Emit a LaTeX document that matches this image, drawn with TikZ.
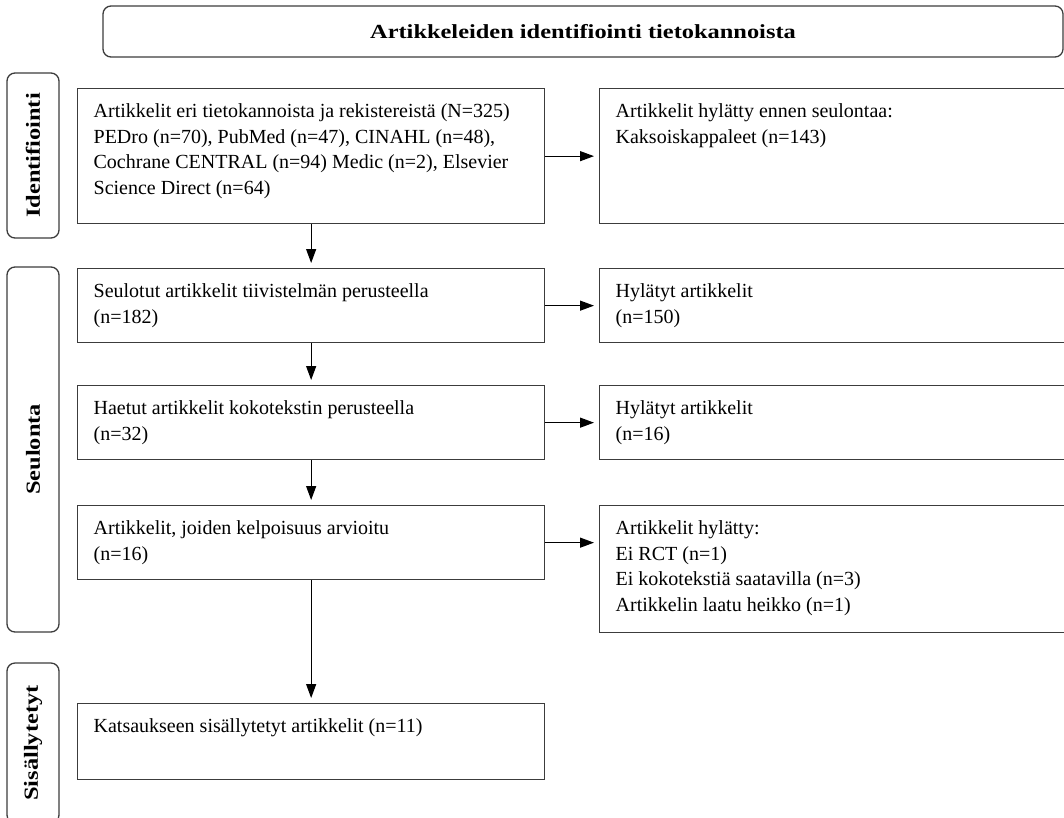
\documentclass[tikz,border=0pt]{standalone}
\usepackage{fontspec}
\setmainfont{Liberation Serif}
\newfontfamily\headfont[FakeStretch=1.22]{Liberation Serif}
\usetikzlibrary{arrows.meta}

% text block at the top of a box: height, width, lines
\newcommand{\boxtxt}[3]{\parbox[c][#1][t]{#2}{\raggedright\rule{0pt}{29pt}#3}}

\begin{document}
\begin{tikzpicture}[x=1pt,y=-1pt,
  flowbox/.style={draw=custcol_3c_3c_3c, line width=1.3pt, anchor=north west,
    inner xsep=16pt, inner ysep=0pt, font=\fontsize{20pt}{25.5pt}\selectfont},
  sidebox/.style={draw=custcol_3c_3c_3c, line width=1.3pt, rounded corners=8pt,
    minimum width=52pt, inner sep=0pt, font=\headfont\bfseries\fontsize{20pt}{24pt}\selectfont},
  flowarrow/.style={-{Triangle[length=14pt,width=10pt]}, line width=1.2pt,
    custcol_0_0_0, shorten >=5pt}]
\useasboundingbox (0,0) rectangle (1064,817);
\definecolor{custcol_0_0_0}{RGB}{0, 0, 0}
\definecolor{custcol_3c_3c_3c}{RGB}{60, 60, 60}
% title and phase labels
\node[sidebox, minimum width=960pt, minimum height=51pt] (title) at (583,31.5) {Artikkeleiden identifiointi tietokannoista};
\node[sidebox, minimum height=165pt] (ident) at (33,155.5) {\rotatebox{90}{Identifiointi}};
\node[sidebox, minimum height=365pt] (seul) at (33,449.5) {\rotatebox{90}{Seulonta}};
\node[sidebox, minimum height=160pt] (sis) at (33,743) {\rotatebox{90}{Sisällytetyt}};
% main column
\node[flowbox] (haku) at (77,88) {\boxtxt{135pt}{435pt}{Artikkelit eri tietokannoista ja rekistereistä (N=325)\\PEDro (n=70), PubMed (n=47), CINAHL (n=48),\\Cochrane CENTRAL (n=94) Medic (n=2), Elsevier\\Science Direct (n=64)}};
\node[flowbox] (seulotut) at (77,268) {\boxtxt{74pt}{435pt}{Seulotut artikkelit tiivistelmän perusteella\\(n=182)}};
\node[flowbox] (haetut) at (77,385) {\boxtxt{74pt}{435pt}{Haetut artikkelit kokotekstin perusteella\\(n=32)}};
\node[flowbox] (kelpo) at (77,505) {\boxtxt{74pt}{435pt}{Artikkelit, joiden kelpoisuus arvioitu\\(n=16)}};
\node[flowbox] (mukaan) at (77,703) {\boxtxt{76pt}{435pt}{Katsaukseen sisällytetyt artikkelit (n=11)}};
% excluded column
\node[flowbox] (hyl0) at (599,88) {\boxtxt{135pt}{434pt}{Artikkelit hylätty ennen seulontaa:\\Kaksoiskappaleet (n=143)}};
\node[flowbox] (hyl1) at (599,268) {\boxtxt{74pt}{434pt}{Hylätyt artikkelit\\(n=150)}};
\node[flowbox] (hyl2) at (599,385) {\boxtxt{74pt}{434pt}{Hylätyt artikkelit\\(n=16)}};
\node[flowbox] (hyl3) at (599,505) {\boxtxt{127pt}{434pt}{Artikkelit hylätty:\\Ei RCT (n=1)\\Ei kokotekstiä saatavilla (n=3)\\Artikkelin laatu heikko (n=1)}};
% arrows
\draw[flowarrow] (haku.south) -- (seulotut.north);
\draw[flowarrow] (seulotut.south) -- (haetut.north);
\draw[flowarrow] (haetut.south) -- (kelpo.north);
\draw[flowarrow] (kelpo.south) -- (mukaan.north);
\draw[flowarrow] (haku.east) -- (haku.east -| hyl0.west);
\draw[flowarrow] (seulotut.east) -- (seulotut.east -| hyl1.west);
\draw[flowarrow] (haetut.east) -- (haetut.east -| hyl2.west);
\draw[flowarrow] (kelpo.east) -- (kelpo.east -| hyl3.west);
\end{tikzpicture}
\end{document}
